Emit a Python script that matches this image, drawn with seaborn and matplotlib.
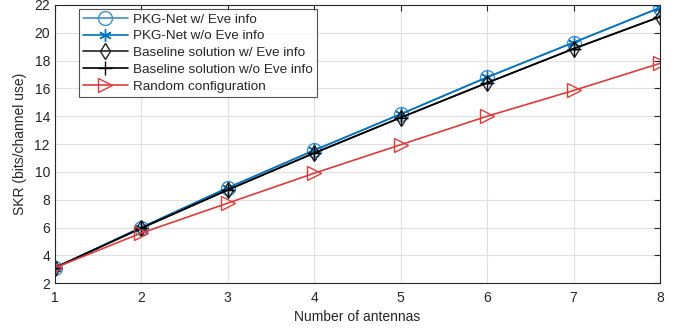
import numpy as np
import pandas as pd
import matplotlib
matplotlib.use('Agg')
import matplotlib.pyplot as plt
import seaborn as sns

antennas = [1, 2, 3, 4, 5, 6, 7, 8]
pkg_w_eve = [3.1, 6.0, 8.85, 11.55, 14.15, 16.8, 19.3, 21.8]
pkg_wo_eve = [3.1, 6.0, 8.85, 11.55, 14.15, 16.8, 19.3, 21.8]
base_w_eve = [3.1, 5.95, 8.7, 11.35, 13.9, 16.4, 18.85, 21.15]
base_wo_eve = [3.1, 5.95, 8.7, 11.35, 13.9, 16.4, 18.85, 21.15]
random_cfg = [3.1, 5.6, 7.75, 9.9, 11.95, 14.0, 15.85, 17.8]

labels = ['PKG-Net w/ Eve info', 'PKG-Net w/o Eve info',
          'Baseline solution w/ Eve info', 'Baseline solution w/o Eve info',
          'Random configuration']

sns.set_style('white')
plt.rcParams['font.family'] = ['Liberation Sans', 'DejaVu Sans']

fig = plt.figure(figsize=(6.85, 3.3), dpi=100)
ax = fig.add_axes([0.080, 0.142, 0.8835, 0.843])

# (values, colour, marker, size, face)
series = [
    (pkg_w_eve, '#3d8fd1', 'o', 10, 'none'),
    (pkg_wo_eve, '#0072bd', (6, 2, 0), 9, '#0072bd'),
    (base_w_eve, '#222222', 'd', 8.5, 'none'),
    (base_wo_eve, '#000000', '+', 10, '#000000'),
    (random_cfg, '#e03a3a', '>', 10, 'none'),
]

for (vals, col, mk, ms, mfc), lab in zip(series, labels):
    sns.lineplot(x=antennas, y=vals, ax=ax, color=col, marker=mk,
                 markersize=ms, markerfacecolor=mfc,
                 markeredgecolor=col, markeredgewidth=1.0, linewidth=1.2,
                 label=lab)

ax.set_xlim(1, 8)
ax.set_ylim(2, 22)
ax.set_xticks(range(1, 9))
ax.set_yticks(range(2, 23, 2))
ax.grid(True, color='#e0e0e0', linewidth=0.8)
ax.tick_params(direction='in', top=True, right=True, length=4,
               labelsize=10, colors='#262626', width=0.8)
ax.tick_params(axis='x', pad=6)
for s in ax.spines.values():
    s.set_color('#262626')
    s.set_linewidth(0.8)
ax.set_xlabel('Number of antennas', fontsize=10, color='#262626', labelpad=3)
ax.set_ylabel('SKR (bits/channel use)', fontsize=10, color='#262626', labelpad=5)

leg = ax.legend(loc='upper left', bbox_to_anchor=(0.04, 0.985), fontsize=9.7,
                frameon=True, fancybox=False, edgecolor='#262626',
                borderpad=0.3, labelspacing=0.32, handlelength=3.3,
                handletextpad=0.4, borderaxespad=0.0)
leg.get_frame().set_linewidth(0.8)

fig.savefig('out.png', dpi=100)
